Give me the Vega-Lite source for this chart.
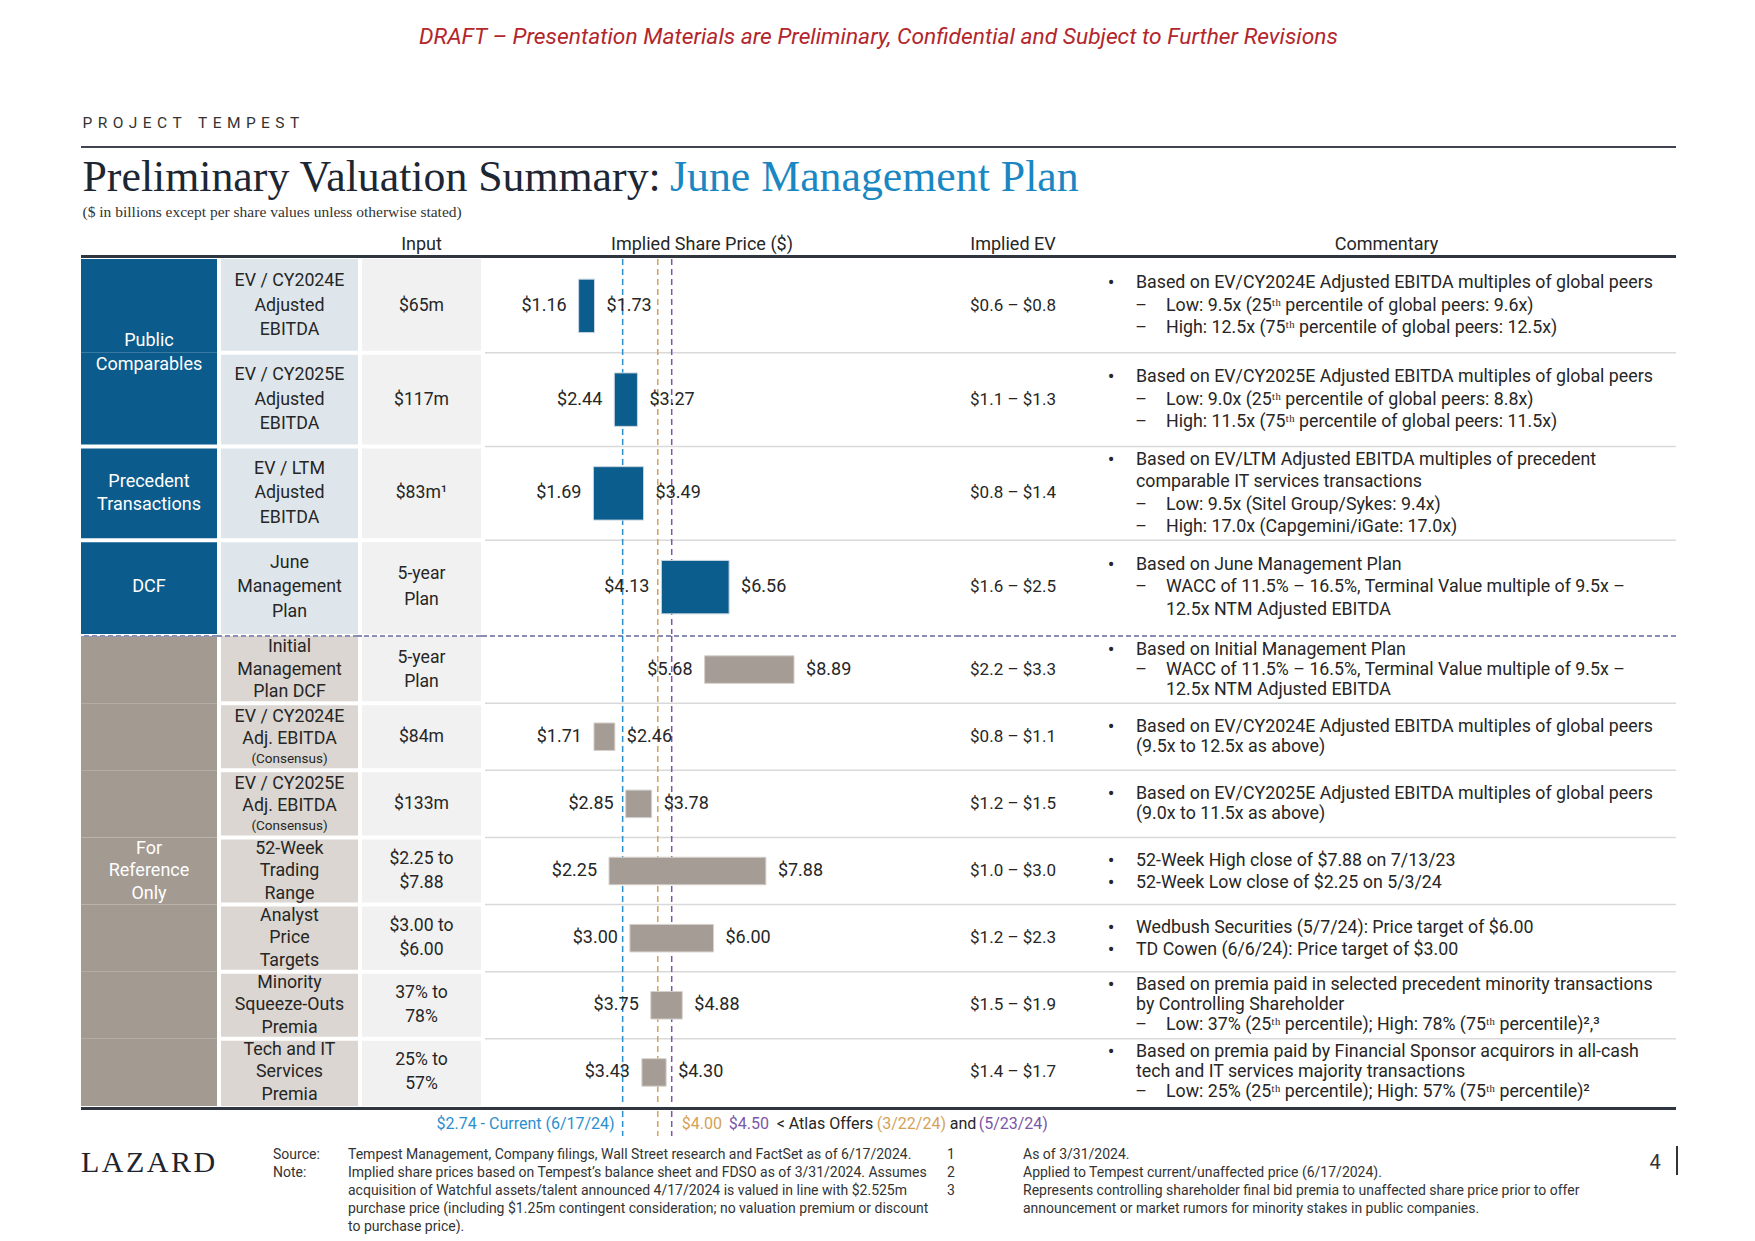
{
"$schema":"https://vega.github.io/schema/vega-lite/v6.json",
"background":"#ffffff",
"padding":{"left":79,"top":0,"right":0,"bottom":0},
"config":{"view":{"stroke":null},"concat":{"spacing":0},"text":{"font":"Roboto","color":"#262626"}},
"datasets":{
"upper":[
{"id":"pc24","method":"EV / CY2024E\nAdjusted\nEBITDA","input":"$65m","low":1.16,"high":1.73,"ev":"$0.6 \u2013 $0.8","cb":"\u2022","ct":"Based on EV/CY2024E Adjusted EBITDA multiples of global peers","cd":"\u2013\n\u2013","cs":"Low: 9.5x (25\u1d57\u02b0 percentile of global peers: 9.6x)\nHigh: 12.5x (75\u1d57\u02b0 percentile of global peers: 12.5x)"},
{"id":"pc25","method":"EV / CY2025E\nAdjusted\nEBITDA","input":"$117m","low":2.44,"high":3.27,"ev":"$1.1 \u2013 $1.3","cb":"\u2022","ct":"Based on EV/CY2025E Adjusted EBITDA multiples of global peers","cd":"\u2013\n\u2013","cs":"Low: 9.0x (25\u1d57\u02b0 percentile of global peers: 8.8x)\nHigh: 11.5x (75\u1d57\u02b0 percentile of global peers: 11.5x)"},
{"id":"pt","method":"EV / LTM\nAdjusted\nEBITDA","input":"$83m\u00b9","low":1.69,"high":3.49,"ev":"$0.8 \u2013 $1.4","cb":"\u2022","ct":"Based on EV/LTM Adjusted EBITDA multiples of precedent\ncomparable IT services transactions","cd":"\u2013\n\u2013","cs":"Low: 9.5x (Sitel Group/Sykes: 9.4x)\nHigh: 17.0x (Capgemini/iGate: 17.0x)"},
{"id":"dcf","method":"June\nManagement\nPlan","input":"5-year\nPlan","low":4.13,"high":6.56,"ev":"$1.6 \u2013 $2.5","cb":"\u2022","ct":"Based on June Management Plan","cd":"\u2013","cs":"WACC of 11.5% \u2013 16.5%, Terminal Value multiple of 9.5x \u2013\n12.5x NTM Adjusted EBITDA"}
],
"lower":[
{"id":"imp","method":"Initial\nManagement\nPlan DCF","input":"5-year\nPlan","low":5.68,"high":8.89,"ev":"$2.2 \u2013 $3.3","cb":"\u2022","ct":"Based on Initial Management Plan","cd":"\u2013","cs":"WACC of 11.5% \u2013 16.5%, Terminal Value multiple of 9.5x \u2013\n12.5x NTM Adjusted EBITDA"},
{"id":"c24","method":"EV / CY2024E\nAdj. EBITDA","note":"(Consensus)","input":"$84m","low":1.71,"high":2.46,"ev":"$0.8 \u2013 $1.1","cb":"\u2022","ct":"Based on EV/CY2024E Adjusted EBITDA multiples of global peers\n(9.5x to 12.5x as above)"},
{"id":"c25","method":"EV / CY2025E\nAdj. EBITDA","note":"(Consensus)","input":"$133m","low":2.85,"high":3.78,"ev":"$1.2 \u2013 $1.5","cb":"\u2022","ct":"Based on EV/CY2025E Adjusted EBITDA multiples of global peers\n(9.0x to 11.5x as above)"},
{"id":"wk52","method":"52-Week\nTrading\nRange","input":"$2.25 to\n$7.88","low":2.25,"high":7.88,"ev":"$1.0 \u2013 $3.0","cb":"\u2022","cb2":"\u2022","ct":"52-Week High close of $7.88 on 7/13/23","ct2":"52-Week Low close of $2.25 on 5/3/24"},
{"id":"analyst","method":"Analyst\nPrice\nTargets","input":"$3.00 to\n$6.00","low":3.0,"high":6.0,"ev":"$1.2 \u2013 $2.3","cb":"\u2022","cb2":"\u2022","ct":"Wedbush Securities (5/7/24): Price target of $6.00","ct2":"TD Cowen (6/6/24): Price target of $3.00"},
{"id":"minority","method":"Minority\nSqueeze-Outs\nPremia","input":"37% to\n78%","low":3.75,"high":4.88,"ev":"$1.5 \u2013 $1.9","cb":"\u2022","ct":"Based on premia paid in selected precedent minority transactions\nby Controlling Shareholder","cd":"\u2013","cs":"Low: 37% (25\u1d57\u02b0 percentile); High: 78% (75\u1d57\u02b0 percentile)\u00b2,\u00b3"},
{"id":"tech","method":"Tech and IT\nServices\nPremia","input":"25% to\n57%","low":3.43,"high":4.3,"ev":"$1.4 \u2013 $1.7","cb":"\u2022","ct":"Based on premia paid by Financial Sponsor acquirors in all-cash\ntech and IT services majority transactions","cd":"\u2013","cs":"Low: 25% (25\u1d57\u02b0 percentile); High: 57% (75\u1d57\u02b0 percentile)\u00b2"}
],
"groupsU":[{"anchor":"pc24","label":"Public\nComparables","span":2},{"anchor":"pt","label":"Precedent\nTransactions","span":1},{"anchor":"dcf","label":"DCF","span":1}],
"groupsL":[{"anchor":"wk52","label":"For\nReference\nOnly","span":7}],
"refs":[{"who":"current","price":2.74,"label":"$2.74 - Current (6/17/24)"},{"who":"offer1","price":4.0,"label":"$4.00","date":"(3/22/24)"},{"who":"offer2","price":4.5,"label":"$4.50","date":"(5/23/24)"}]
},
"vconcat":[
{"width":1595,"height":73,"data":{"values":[{"t":"DRAFT \u2013 Presentation Materials are Preliminary, Confidential and Subject to Further Revisions"}]},"mark":{"type":"text","fontStyle":"italic","fontSize":22.8,"color":"#b3262c","baseline":"middle","align":"center"},"encoding":{"text":{"field":"t","type":"nominal"}}},
{"width":1595,"height":27,"data":{"values":[]},"mark":"rect"},
{"width":3,"height":46,"data":{"values":[{"t":"P\u00a0\u200aR\u00a0\u200aO\u00a0\u200aJ\u00a0\u200aE\u00a0\u200aC\u00a0\u200aT\u00a0\u200a\u00a0\u200a\u00a0\u200aT\u00a0\u200aE\u00a0\u200aM\u00a0\u200aP\u00a0\u200aE\u00a0\u200aS\u00a0\u200aT"}]},"mark":{"type":"text","align":"left","baseline":"middle","fontSize":15.5,"color":"#333333"},"encoding":{"text":{"field":"t","type":"nominal"}}},
{"width":1595,"height":2,"data":{"values":[{}]},"mark":{"type":"rect","color":"#3f4450"}},
{"hconcat":[
 {"width":3,"height":55,"data":{"values":[{"t":"Preliminary Valuation Summary:"}]},"mark":{"type":"text","font":"Liberation Serif","fontSize":43.8,"align":"left","baseline":"middle","dy":2,"color":"#1d2633"},"encoding":{"text":{"field":"t","type":"nominal"}}},
 {"width":1172,"height":55,"data":{"values":[{"t":"June Management Plan"}]},"mark":{"type":"text","font":"Liberation Serif","fontSize":43.8,"align":"left","baseline":"middle","dy":2,"color":"#1a87c2"},"encoding":{"text":{"field":"t","type":"nominal"}}}
],"spacing":0,"bounds":"flush"},
{"width":3,"height":17,"data":{"values":[{"t":"($ in billions except per share values unless otherwise stated)"}]},"mark":{"type":"text","font":"Liberation Serif","fontSize":15.5,"align":"left","baseline":"middle","color":"#333333"},"encoding":{"text":{"field":"t","type":"nominal"}}},
{"hconcat":[
 {"width":281,"height":35,"data":{"values":[]},"mark":"rect"},
 {"width":119,"height":35,"data":{"values":[{"t":"Input"}]},"mark":{"type":"text","fontSize":18,"baseline":"middle","dy":7},"encoding":{"text":{"field":"t","type":"nominal"}}},
 {"width":4,"height":35,"data":{"values":[]},"mark":"rect"},
 {"width":474,"height":35,"data":{"values":[{"t":"Implied Share Price ($)"}]},"mark":{"type":"text","fontSize":18,"baseline":"middle","dy":7,"dx":-20},"encoding":{"text":{"field":"t","type":"nominal"}}},
 {"width":108,"height":35,"data":{"values":[{"t":"Implied EV"}]},"mark":{"type":"text","fontSize":18,"baseline":"middle","dy":7},"encoding":{"text":{"field":"t","type":"nominal"}}},
 {"width":609,"height":35,"data":{"values":[{"t":"Commentary"}]},"mark":{"type":"text","fontSize":18,"baseline":"middle","dy":7,"dx":15},"encoding":{"text":{"field":"t","type":"nominal"}}}
],"spacing":0,"bounds":"flush"},
{"width":1595,"height":3,"data":{"values":[{}]},"mark":{"type":"rect","color":"#2f3640"}},
{"hconcat":[
 {"width":136,"height":375,"data":{"name":"upper"},"layer":[
  {"mark":{"type":"rect","color":"#0b5b8c"},"encoding":{"y":{"field":"id","type":"nominal","axis":null,"scale":{"type":"band","domain":["pc24","pc25","pt","dcf"],"paddingInner":0,"paddingOuter":0}}}},
  {"transform":[{"filter":"datum.id=='pt'||datum.id=='dcf'"}],"mark":{"type":"rule","color":"#ffffff","strokeWidth":4},"encoding":{"y":{"field":"id","type":"nominal","axis":null,"bandPosition":0,"scale":{"type":"band","domain":["pc24","pc25","pt","dcf"],"paddingInner":0,"paddingOuter":0}}}},
  {"data":{"name":"groupsU"},"transform":[{"filter":"datum.span==2"}],"mark":{"type":"text","color":"#ffffff","fontSize":18,"lineBreak":"\n","lineHeight":23.5,"baseline":"middle","align":"center","dy":-11.75},"encoding":{"y":{"field":"anchor","type":"nominal","axis":null,"bandPosition":1,"scale":{"type":"band","domain":["pc24","pc25","pt","dcf"],"paddingInner":0,"paddingOuter":0}},"text":{"field":"label","type":"nominal"}}},
  {"data":{"name":"groupsU"},"transform":[{"filter":"datum.span!=2 && split(datum.label,'\\n').length==2"}],"mark":{"type":"text","color":"#ffffff","fontSize":18,"lineBreak":"\n","lineHeight":23.5,"baseline":"middle","align":"center","dy":-11.75},"encoding":{"y":{"field":"anchor","type":"nominal","axis":null,"scale":{"type":"band","domain":["pc24","pc25","pt","dcf"],"paddingInner":0,"paddingOuter":0}},"text":{"field":"label","type":"nominal"}}},
  {"data":{"name":"groupsU"},"transform":[{"filter":"datum.span!=2 && split(datum.label,'\\n').length==1"}],"mark":{"type":"text","color":"#ffffff","fontSize":18,"baseline":"middle","align":"center"},"encoding":{"y":{"field":"anchor","type":"nominal","axis":null,"scale":{"type":"band","domain":["pc24","pc25","pt","dcf"],"paddingInner":0,"paddingOuter":0}},"text":{"field":"label","type":"nominal"}}}
 ]},
 {"width":4,"height":375,"data":{"values":[]},"mark":"rect"},
 {"width":137,"height":375,"data":{"name":"upper"},"layer":[
  {"mark":{"type":"rect","color":"#dfe6eb"},"encoding":{"y":{"field":"id","type":"nominal","axis":null,"scale":{"type":"band","domain":["pc24","pc25","pt","dcf"],"paddingInner":0,"paddingOuter":0}}}},
  {"transform":[{"filter":"datum.id!='pc24'"}],"mark":{"type":"rule","color":"#ffffff","strokeWidth":4},"encoding":{"y":{"field":"id","type":"nominal","axis":null,"bandPosition":0,"scale":{"type":"band","domain":["pc24","pc25","pt","dcf"],"paddingInner":0,"paddingOuter":0}}}},
  {"mark":{"type":"text","fontSize":17.8,"lineBreak":"\n","lineHeight":24.5,"baseline":"middle","align":"center","dy":-24.5},"encoding":{"y":{"field":"id","type":"nominal","axis":null,"scale":{"type":"band","domain":["pc24","pc25","pt","dcf"],"paddingInner":0,"paddingOuter":0}},"text":{"field":"method","type":"nominal"}}}
 ]},
 {"width":4,"height":375,"data":{"values":[]},"mark":"rect"},
 {"width":119,"height":375,"data":{"name":"upper"},"layer":[
  {"mark":{"type":"rect","color":"#f1f1f1"},"encoding":{"y":{"field":"id","type":"nominal","axis":null,"scale":{"type":"band","domain":["pc24","pc25","pt","dcf"],"paddingInner":0,"paddingOuter":0}}}},
  {"transform":[{"filter":"datum.id!='pc24'"}],"mark":{"type":"rule","color":"#ffffff","strokeWidth":4},"encoding":{"y":{"field":"id","type":"nominal","axis":null,"bandPosition":0,"scale":{"type":"band","domain":["pc24","pc25","pt","dcf"],"paddingInner":0,"paddingOuter":0}}}},
  {"transform":[{"filter":"split(datum.input,'\\n').length==1"}],"mark":{"type":"text","fontSize":17.6,"baseline":"middle","align":"center"},"encoding":{"y":{"field":"id","type":"nominal","axis":null,"scale":{"type":"band","domain":["pc24","pc25","pt","dcf"],"paddingInner":0,"paddingOuter":0}},"text":{"field":"input","type":"nominal"}}},
  {"transform":[{"filter":"split(datum.input,'\\n').length==2"}],"mark":{"type":"text","fontSize":17.6,"lineBreak":"\n","lineHeight":26,"baseline":"middle","align":"center","dy":-13},"encoding":{"y":{"field":"id","type":"nominal","axis":null,"scale":{"type":"band","domain":["pc24","pc25","pt","dcf"],"paddingInner":0,"paddingOuter":0}},"text":{"field":"input","type":"nominal"}}}
 ]},
 {"width":4,"height":375,"data":{"values":[]},"mark":"rect"},
 {"width":474,"height":375,"layer":[
  {"data":{"name":"upper"},"transform":[{"filter":"datum.id!='pc24'"}],"mark":{"type":"rule","color":"#d9d9d9","strokeWidth":1.5},"encoding":{"y":{"field":"id","type":"nominal","axis":null,"bandPosition":0,"scale":{"type":"band","domain":["pc24","pc25","pt","dcf"],"paddingInner":0,"paddingOuter":0}}}},
  {"data":{"name":"refs"},"mark":{"type":"rule","strokeWidth":1.5,"strokeDash":[6,4]},"encoding":{"x":{"field":"price","type":"quantitative","axis":null,"scale":{"domain":[-2.2,14.81],"nice":false,"zero":false}},"color":{"field":"who","type":"nominal","legend":null,"scale":{"domain":["current","offer1","offer2"],"range":["#2b8fce","#d4a257","#7c56a8"]}}}},
  {"data":{"name":"upper"},"mark":{"type":"bar","height":{"band":0.57},"fill":"#0a5d8c","stroke":"#c8d5e0","strokeWidth":1},"encoding":{"y":{"field":"id","type":"nominal","axis":null,"scale":{"type":"band","domain":["pc24","pc25","pt","dcf"],"paddingInner":0,"paddingOuter":0}},"x":{"field":"low","type":"quantitative","axis":null,"scale":{"domain":[-2.2,14.81],"nice":false,"zero":false}},"x2":{"field":"high"}}},
  {"data":{"name":"upper"},"mark":{"type":"text","align":"right","dx":-12,"fontSize":18,"baseline":"middle"},"encoding":{"y":{"field":"id","type":"nominal","axis":null,"scale":{"type":"band","domain":["pc24","pc25","pt","dcf"],"paddingInner":0,"paddingOuter":0}},"x":{"field":"low","type":"quantitative","axis":null,"scale":{"domain":[-2.2,14.81],"nice":false,"zero":false}},"text":{"field":"low","type":"quantitative","format":"$.2f"}}},
  {"data":{"name":"upper"},"mark":{"type":"text","align":"left","dx":12,"fontSize":18,"baseline":"middle"},"encoding":{"y":{"field":"id","type":"nominal","axis":null,"scale":{"type":"band","domain":["pc24","pc25","pt","dcf"],"paddingInner":0,"paddingOuter":0}},"x":{"field":"high","type":"quantitative","axis":null,"scale":{"domain":[-2.2,14.81],"nice":false,"zero":false}},"text":{"field":"high","type":"quantitative","format":"$.2f"}}}
 ]},
 {"width":108,"height":375,"data":{"name":"upper"},"layer":[
  {"transform":[{"filter":"datum.id!='pc24'"}],"mark":{"type":"rule","color":"#d9d9d9","strokeWidth":1.5},"encoding":{"y":{"field":"id","type":"nominal","axis":null,"bandPosition":0,"scale":{"type":"band","domain":["pc24","pc25","pt","dcf"],"paddingInner":0,"paddingOuter":0}}}},
  {"mark":{"type":"text","fontSize":17,"baseline":"middle","align":"center"},"encoding":{"y":{"field":"id","type":"nominal","axis":null,"scale":{"type":"band","domain":["pc24","pc25","pt","dcf"],"paddingInner":0,"paddingOuter":0}},"text":{"field":"ev","type":"nominal"}}}
 ]},
 {"width":88,"height":375,"data":{"name":"upper"},"layer":[
  {"transform":[{"filter":"datum.id!='pc24'"}],"mark":{"type":"rule","color":"#d9d9d9","strokeWidth":1.5},"encoding":{"y":{"field":"id","type":"nominal","axis":null,"bandPosition":0,"scale":{"type":"band","domain":["pc24","pc25","pt","dcf"],"paddingInner":0,"paddingOuter":0}}}},
  {"transform":[{"filter":"split(datum.ct,'\\n').length + (datum.cs ? split(datum.cs,'\\n').length : 0) == 3"}],"mark":{"type":"text","fontSize":20,"baseline":"middle","align":"center","dy":-22.5},"encoding":{"y":{"field":"id","type":"nominal","axis":null,"scale":{"type":"band","domain":["pc24","pc25","pt","dcf"],"paddingInner":0,"paddingOuter":0}},"text":{"field":"cb","type":"nominal"}}},
  {"transform":[{"filter":"split(datum.ct,'\\n').length + (datum.cs ? split(datum.cs,'\\n').length : 0) == 3"}],"mark":{"type":"text","fontSize":17.8,"baseline":"middle","align":"left","dx":25,"dy":-22.5,"lineBreak":"\n","lineHeight":22.5},"encoding":{"y":{"field":"id","type":"nominal","axis":null,"scale":{"type":"band","domain":["pc24","pc25","pt","dcf"],"paddingInner":0,"paddingOuter":0}},"text":{"field":"ct","type":"nominal"}}},
  {"transform":[{"filter":"split(datum.ct,'\\n').length + (datum.cs ? split(datum.cs,'\\n').length : 0) == 4"}],"mark":{"type":"text","fontSize":20,"baseline":"middle","align":"center","dy":-33.75},"encoding":{"y":{"field":"id","type":"nominal","axis":null,"scale":{"type":"band","domain":["pc24","pc25","pt","dcf"],"paddingInner":0,"paddingOuter":0}},"text":{"field":"cb","type":"nominal"}}},
  {"transform":[{"filter":"split(datum.ct,'\\n').length + (datum.cs ? split(datum.cs,'\\n').length : 0) == 4"}],"mark":{"type":"text","fontSize":17.8,"baseline":"middle","align":"left","dx":25,"dy":-33.75,"lineBreak":"\n","lineHeight":22.5},"encoding":{"y":{"field":"id","type":"nominal","axis":null,"scale":{"type":"band","domain":["pc24","pc25","pt","dcf"],"paddingInner":0,"paddingOuter":0}},"text":{"field":"ct","type":"nominal"}}},
  {"transform":[{"filter":"datum.cs && split(datum.ct,'\\n').length==1 && split(datum.cs,'\\n').length==2"}],"mark":{"type":"text","fontSize":17.8,"baseline":"middle","align":"center","dx":30,"dy":0,"lineBreak":"\n","lineHeight":22.5},"encoding":{"y":{"field":"id","type":"nominal","axis":null,"scale":{"type":"band","domain":["pc24","pc25","pt","dcf"],"paddingInner":0,"paddingOuter":0}},"text":{"field":"cd","type":"nominal"}}},
  {"transform":[{"filter":"datum.cs && split(datum.ct,'\\n').length==1 && split(datum.cs,'\\n').length==2"}],"mark":{"type":"text","fontSize":17.8,"baseline":"middle","align":"left","dx":55,"dy":0,"lineBreak":"\n","lineHeight":22.5},"encoding":{"y":{"field":"id","type":"nominal","axis":null,"scale":{"type":"band","domain":["pc24","pc25","pt","dcf"],"paddingInner":0,"paddingOuter":0}},"text":{"field":"cs","type":"nominal"}}},
  {"transform":[{"filter":"datum.cs && split(datum.ct,'\\n').length==2 && split(datum.cs,'\\n').length==2"}],"mark":{"type":"text","fontSize":17.8,"baseline":"middle","align":"center","dx":30,"dy":11.25,"lineBreak":"\n","lineHeight":22.5},"encoding":{"y":{"field":"id","type":"nominal","axis":null,"scale":{"type":"band","domain":["pc24","pc25","pt","dcf"],"paddingInner":0,"paddingOuter":0}},"text":{"field":"cd","type":"nominal"}}},
  {"transform":[{"filter":"datum.cs && split(datum.ct,'\\n').length==2 && split(datum.cs,'\\n').length==2"}],"mark":{"type":"text","fontSize":17.8,"baseline":"middle","align":"left","dx":55,"dy":11.25,"lineBreak":"\n","lineHeight":22.5},"encoding":{"y":{"field":"id","type":"nominal","axis":null,"scale":{"type":"band","domain":["pc24","pc25","pt","dcf"],"paddingInner":0,"paddingOuter":0}},"text":{"field":"cs","type":"nominal"}}}
 ]},
 {"width":521,"height":375,"data":{"name":"upper"},"transform":[{"filter":"datum.id!='pc24'"}],"mark":{"type":"rule","color":"#d9d9d9","strokeWidth":1.5},"encoding":{"y":{"field":"id","type":"nominal","axis":null,"bandPosition":0,"scale":{"type":"band","domain":["pc24","pc25","pt","dcf"],"paddingInner":0,"paddingOuter":0}}}}
],"spacing":0,"bounds":"flush"},
{"hconcat":[
 {"width":136,"height":470,"data":{"name":"lower"},"layer":[
  {"mark":{"type":"rect","color":"#a39a91"},"encoding":{"y":{"field":"id","type":"nominal","axis":null,"scale":{"type":"band","domain":["imp","c24","c25","wk52","analyst","minority","tech"],"paddingInner":0,"paddingOuter":0}}}},
  {"transform":[{"filter":"datum.id=='imp'"}],"mark":{"type":"rule","color":"#8a8db5","strokeWidth":2,"strokeDash":[5,3]},"encoding":{"y":{"field":"id","type":"nominal","axis":null,"bandPosition":0,"scale":{"type":"band","domain":["imp","c24","c25","wk52","analyst","minority","tech"],"paddingInner":0,"paddingOuter":0}}}},
  {"data":{"name":"groupsL"},"mark":{"type":"text","color":"#ffffff","fontSize":18,"lineBreak":"\n","lineHeight":22.5,"baseline":"middle","align":"center","dy":-22.5},"encoding":{"y":{"field":"anchor","type":"nominal","axis":null,"scale":{"type":"band","domain":["imp","c24","c25","wk52","analyst","minority","tech"],"paddingInner":0,"paddingOuter":0}},"text":{"field":"label","type":"nominal"}}}
 ]},
 {"width":4,"height":470,"data":{"name":"lower"},"transform":[{"filter":"datum.id=='imp'"}],"mark":{"type":"rule","color":"#8a8db5","strokeWidth":2,"strokeDash":[5,3]},"encoding":{"y":{"field":"id","type":"nominal","axis":null,"bandPosition":0,"scale":{"type":"band","domain":["imp","c24","c25","wk52","analyst","minority","tech"],"paddingInner":0,"paddingOuter":0}}}},
 {"width":137,"height":470,"data":{"name":"lower"},"layer":[
  {"mark":{"type":"rect","color":"#dbd6d1"},"encoding":{"y":{"field":"id","type":"nominal","axis":null,"scale":{"type":"band","domain":["imp","c24","c25","wk52","analyst","minority","tech"],"paddingInner":0,"paddingOuter":0}}}},
  {"transform":[{"filter":"datum.id!='imp'"}],"mark":{"type":"rule","color":"#ffffff","strokeWidth":4},"encoding":{"y":{"field":"id","type":"nominal","axis":null,"bandPosition":0,"scale":{"type":"band","domain":["imp","c24","c25","wk52","analyst","minority","tech"],"paddingInner":0,"paddingOuter":0}}}},
  {"transform":[{"filter":"datum.id=='imp'"}],"mark":{"type":"rule","color":"#8a8db5","strokeWidth":2,"strokeDash":[5,3]},"encoding":{"y":{"field":"id","type":"nominal","axis":null,"bandPosition":0,"scale":{"type":"band","domain":["imp","c24","c25","wk52","analyst","minority","tech"],"paddingInner":0,"paddingOuter":0}}}},
  {"transform":[{"filter":"!datum.note"}],"mark":{"type":"text","fontSize":17.8,"lineBreak":"\n","lineHeight":22.5,"baseline":"middle","align":"center","dy":-22.5},"encoding":{"y":{"field":"id","type":"nominal","axis":null,"scale":{"type":"band","domain":["imp","c24","c25","wk52","analyst","minority","tech"],"paddingInner":0,"paddingOuter":0}},"text":{"field":"method","type":"nominal"}}},
  {"transform":[{"filter":"datum.note"}],"mark":{"type":"text","fontSize":17.8,"lineBreak":"\n","lineHeight":21.5,"baseline":"middle","align":"center","dy":-19.5},"encoding":{"y":{"field":"id","type":"nominal","axis":null,"scale":{"type":"band","domain":["imp","c24","c25","wk52","analyst","minority","tech"],"paddingInner":0,"paddingOuter":0}},"text":{"field":"method","type":"nominal"}}},
  {"transform":[{"filter":"datum.note"}],"mark":{"type":"text","fontSize":13.5,"baseline":"middle","align":"center","dy":22.5},"encoding":{"y":{"field":"id","type":"nominal","axis":null,"scale":{"type":"band","domain":["imp","c24","c25","wk52","analyst","minority","tech"],"paddingInner":0,"paddingOuter":0}},"text":{"field":"note","type":"nominal"}}}
 ]},
 {"width":4,"height":470,"data":{"name":"lower"},"transform":[{"filter":"datum.id=='imp'"}],"mark":{"type":"rule","color":"#8a8db5","strokeWidth":2,"strokeDash":[5,3]},"encoding":{"y":{"field":"id","type":"nominal","axis":null,"bandPosition":0,"scale":{"type":"band","domain":["imp","c24","c25","wk52","analyst","minority","tech"],"paddingInner":0,"paddingOuter":0}}}},
 {"width":119,"height":470,"data":{"name":"lower"},"layer":[
  {"mark":{"type":"rect","color":"#f1f1f1"},"encoding":{"y":{"field":"id","type":"nominal","axis":null,"scale":{"type":"band","domain":["imp","c24","c25","wk52","analyst","minority","tech"],"paddingInner":0,"paddingOuter":0}}}},
  {"transform":[{"filter":"datum.id!='imp'"}],"mark":{"type":"rule","color":"#ffffff","strokeWidth":4},"encoding":{"y":{"field":"id","type":"nominal","axis":null,"bandPosition":0,"scale":{"type":"band","domain":["imp","c24","c25","wk52","analyst","minority","tech"],"paddingInner":0,"paddingOuter":0}}}},
  {"transform":[{"filter":"datum.id=='imp'"}],"mark":{"type":"rule","color":"#8a8db5","strokeWidth":2,"strokeDash":[5,3]},"encoding":{"y":{"field":"id","type":"nominal","axis":null,"bandPosition":0,"scale":{"type":"band","domain":["imp","c24","c25","wk52","analyst","minority","tech"],"paddingInner":0,"paddingOuter":0}}}},
  {"transform":[{"filter":"split(datum.input,'\\n').length==1"}],"mark":{"type":"text","fontSize":17.6,"baseline":"middle","align":"center"},"encoding":{"y":{"field":"id","type":"nominal","axis":null,"scale":{"type":"band","domain":["imp","c24","c25","wk52","analyst","minority","tech"],"paddingInner":0,"paddingOuter":0}},"text":{"field":"input","type":"nominal"}}},
  {"transform":[{"filter":"split(datum.input,'\\n').length==2"}],"mark":{"type":"text","fontSize":17.6,"lineBreak":"\n","lineHeight":24,"baseline":"middle","align":"center","dy":-12},"encoding":{"y":{"field":"id","type":"nominal","axis":null,"scale":{"type":"band","domain":["imp","c24","c25","wk52","analyst","minority","tech"],"paddingInner":0,"paddingOuter":0}},"text":{"field":"input","type":"nominal"}}}
 ]},
 {"width":4,"height":470,"data":{"name":"lower"},"transform":[{"filter":"datum.id=='imp'"}],"mark":{"type":"rule","color":"#8a8db5","strokeWidth":2,"strokeDash":[5,3]},"encoding":{"y":{"field":"id","type":"nominal","axis":null,"bandPosition":0,"scale":{"type":"band","domain":["imp","c24","c25","wk52","analyst","minority","tech"],"paddingInner":0,"paddingOuter":0}}}},
 {"width":474,"height":470,"layer":[
  {"data":{"name":"lower"},"transform":[{"filter":"datum.id!='imp'"}],"mark":{"type":"rule","color":"#d9d9d9","strokeWidth":1.5},"encoding":{"y":{"field":"id","type":"nominal","axis":null,"bandPosition":0,"scale":{"type":"band","domain":["imp","c24","c25","wk52","analyst","minority","tech"],"paddingInner":0,"paddingOuter":0}}}},
  {"data":{"name":"lower"},"transform":[{"filter":"datum.id=='imp'"}],"mark":{"type":"rule","color":"#8a8db5","strokeWidth":2,"strokeDash":[5,3]},"encoding":{"y":{"field":"id","type":"nominal","axis":null,"bandPosition":0,"scale":{"type":"band","domain":["imp","c24","c25","wk52","analyst","minority","tech"],"paddingInner":0,"paddingOuter":0}}}},
  {"data":{"name":"refs"},"mark":{"type":"rule","strokeWidth":1.5,"strokeDash":[6,4]},"encoding":{"x":{"field":"price","type":"quantitative","axis":null,"scale":{"domain":[-2.2,14.81],"nice":false,"zero":false}},"color":{"field":"who","type":"nominal","legend":null,"scale":{"domain":["current","offer1","offer2"],"range":["#2b8fce","#d4a257","#7c56a8"]}}}},
  {"data":{"name":"lower"},"mark":{"type":"bar","height":{"band":0.41},"fill":"#a59d95","stroke":"#d6d1cc","strokeWidth":1},"encoding":{"y":{"field":"id","type":"nominal","axis":null,"scale":{"type":"band","domain":["imp","c24","c25","wk52","analyst","minority","tech"],"paddingInner":0,"paddingOuter":0}},"x":{"field":"low","type":"quantitative","axis":null,"scale":{"domain":[-2.2,14.81],"nice":false,"zero":false}},"x2":{"field":"high"}}},
  {"data":{"name":"lower"},"mark":{"type":"text","align":"right","dx":-12,"fontSize":18,"baseline":"middle"},"encoding":{"y":{"field":"id","type":"nominal","axis":null,"scale":{"type":"band","domain":["imp","c24","c25","wk52","analyst","minority","tech"],"paddingInner":0,"paddingOuter":0}},"x":{"field":"low","type":"quantitative","axis":null,"scale":{"domain":[-2.2,14.81],"nice":false,"zero":false}},"text":{"field":"low","type":"quantitative","format":"$.2f"}}},
  {"data":{"name":"lower"},"mark":{"type":"text","align":"left","dx":12,"fontSize":18,"baseline":"middle"},"encoding":{"y":{"field":"id","type":"nominal","axis":null,"scale":{"type":"band","domain":["imp","c24","c25","wk52","analyst","minority","tech"],"paddingInner":0,"paddingOuter":0}},"x":{"field":"high","type":"quantitative","axis":null,"scale":{"domain":[-2.2,14.81],"nice":false,"zero":false}},"text":{"field":"high","type":"quantitative","format":"$.2f"}}}
 ]},
 {"width":108,"height":470,"data":{"name":"lower"},"layer":[
  {"transform":[{"filter":"datum.id!='imp'"}],"mark":{"type":"rule","color":"#d9d9d9","strokeWidth":1.5},"encoding":{"y":{"field":"id","type":"nominal","axis":null,"bandPosition":0,"scale":{"type":"band","domain":["imp","c24","c25","wk52","analyst","minority","tech"],"paddingInner":0,"paddingOuter":0}}}},
  {"transform":[{"filter":"datum.id=='imp'"}],"mark":{"type":"rule","color":"#8a8db5","strokeWidth":2,"strokeDash":[5,3]},"encoding":{"y":{"field":"id","type":"nominal","axis":null,"bandPosition":0,"scale":{"type":"band","domain":["imp","c24","c25","wk52","analyst","minority","tech"],"paddingInner":0,"paddingOuter":0}}}},
  {"mark":{"type":"text","fontSize":17,"baseline":"middle","align":"center"},"encoding":{"y":{"field":"id","type":"nominal","axis":null,"scale":{"type":"band","domain":["imp","c24","c25","wk52","analyst","minority","tech"],"paddingInner":0,"paddingOuter":0}},"text":{"field":"ev","type":"nominal"}}}
 ]},
 {"width":88,"height":470,"data":{"name":"lower"},"layer":[
  {"transform":[{"filter":"datum.id!='imp'"}],"mark":{"type":"rule","color":"#d9d9d9","strokeWidth":1.5},"encoding":{"y":{"field":"id","type":"nominal","axis":null,"bandPosition":0,"scale":{"type":"band","domain":["imp","c24","c25","wk52","analyst","minority","tech"],"paddingInner":0,"paddingOuter":0}}}},
  {"transform":[{"filter":"datum.id=='imp'"}],"mark":{"type":"rule","color":"#8a8db5","strokeWidth":2,"strokeDash":[5,3]},"encoding":{"y":{"field":"id","type":"nominal","axis":null,"bandPosition":0,"scale":{"type":"band","domain":["imp","c24","c25","wk52","analyst","minority","tech"],"paddingInner":0,"paddingOuter":0}}}},
  {"transform":[{"filter":"datum.ct2 || split(datum.ct,'\\n').length + (datum.cs ? split(datum.cs,'\\n').length : 0) == 2"}],"mark":{"type":"text","fontSize":20,"baseline":"middle","align":"center","dy":-10},"encoding":{"y":{"field":"id","type":"nominal","axis":null,"scale":{"type":"band","domain":["imp","c24","c25","wk52","analyst","minority","tech"],"paddingInner":0,"paddingOuter":0}},"text":{"field":"cb","type":"nominal"}}},
  {"transform":[{"filter":"datum.ct2 || split(datum.ct,'\\n').length + (datum.cs ? split(datum.cs,'\\n').length : 0) == 2"}],"mark":{"type":"text","fontSize":17.8,"baseline":"middle","align":"left","dx":25,"dy":-10,"lineBreak":"\n","lineHeight":20},"encoding":{"y":{"field":"id","type":"nominal","axis":null,"scale":{"type":"band","domain":["imp","c24","c25","wk52","analyst","minority","tech"],"paddingInner":0,"paddingOuter":0}},"text":{"field":"ct","type":"nominal"}}},
  {"transform":[{"filter":"datum.ct2"}],"mark":{"type":"text","fontSize":20,"baseline":"middle","align":"center","dy":12},"encoding":{"y":{"field":"id","type":"nominal","axis":null,"scale":{"type":"band","domain":["imp","c24","c25","wk52","analyst","minority","tech"],"paddingInner":0,"paddingOuter":0}},"text":{"field":"cb2","type":"nominal"}}},
  {"transform":[{"filter":"datum.ct2"}],"mark":{"type":"text","fontSize":17.8,"baseline":"middle","align":"left","dx":25,"dy":12},"encoding":{"y":{"field":"id","type":"nominal","axis":null,"scale":{"type":"band","domain":["imp","c24","c25","wk52","analyst","minority","tech"],"paddingInner":0,"paddingOuter":0}},"text":{"field":"ct2","type":"nominal"}}},
  {"transform":[{"filter":"!datum.ct2 && split(datum.ct,'\\n').length + (datum.cs ? split(datum.cs,'\\n').length : 0) == 3"}],"mark":{"type":"text","fontSize":20,"baseline":"middle","align":"center","dy":-20},"encoding":{"y":{"field":"id","type":"nominal","axis":null,"scale":{"type":"band","domain":["imp","c24","c25","wk52","analyst","minority","tech"],"paddingInner":0,"paddingOuter":0}},"text":{"field":"cb","type":"nominal"}}},
  {"transform":[{"filter":"!datum.ct2 && split(datum.ct,'\\n').length + (datum.cs ? split(datum.cs,'\\n').length : 0) == 3"}],"mark":{"type":"text","fontSize":17.8,"baseline":"middle","align":"left","dx":25,"dy":-20,"lineBreak":"\n","lineHeight":20},"encoding":{"y":{"field":"id","type":"nominal","axis":null,"scale":{"type":"band","domain":["imp","c24","c25","wk52","analyst","minority","tech"],"paddingInner":0,"paddingOuter":0}},"text":{"field":"ct","type":"nominal"}}},
  {"transform":[{"filter":"datum.cs && split(datum.ct,'\\n').length==1"}],"mark":{"type":"text","fontSize":17.8,"baseline":"middle","align":"center","dx":30,"dy":0,"lineBreak":"\n","lineHeight":20},"encoding":{"y":{"field":"id","type":"nominal","axis":null,"scale":{"type":"band","domain":["imp","c24","c25","wk52","analyst","minority","tech"],"paddingInner":0,"paddingOuter":0}},"text":{"field":"cd","type":"nominal"}}},
  {"transform":[{"filter":"datum.cs && split(datum.ct,'\\n').length==1"}],"mark":{"type":"text","fontSize":17.8,"baseline":"middle","align":"left","dx":55,"dy":0,"lineBreak":"\n","lineHeight":20},"encoding":{"y":{"field":"id","type":"nominal","axis":null,"scale":{"type":"band","domain":["imp","c24","c25","wk52","analyst","minority","tech"],"paddingInner":0,"paddingOuter":0}},"text":{"field":"cs","type":"nominal"}}},
  {"transform":[{"filter":"datum.cs && split(datum.ct,'\\n').length==2"}],"mark":{"type":"text","fontSize":17.8,"baseline":"middle","align":"center","dx":30,"dy":20,"lineBreak":"\n","lineHeight":20},"encoding":{"y":{"field":"id","type":"nominal","axis":null,"scale":{"type":"band","domain":["imp","c24","c25","wk52","analyst","minority","tech"],"paddingInner":0,"paddingOuter":0}},"text":{"field":"cd","type":"nominal"}}},
  {"transform":[{"filter":"datum.cs && split(datum.ct,'\\n').length==2"}],"mark":{"type":"text","fontSize":17.8,"baseline":"middle","align":"left","dx":55,"dy":20,"lineBreak":"\n","lineHeight":20},"encoding":{"y":{"field":"id","type":"nominal","axis":null,"scale":{"type":"band","domain":["imp","c24","c25","wk52","analyst","minority","tech"],"paddingInner":0,"paddingOuter":0}},"text":{"field":"cs","type":"nominal"}}}
 ]},
 {"width":521,"height":470,"data":{"name":"lower"},"layer":[
  {"transform":[{"filter":"datum.id!='imp'"}],"mark":{"type":"rule","color":"#d9d9d9","strokeWidth":1.5},"encoding":{"y":{"field":"id","type":"nominal","axis":null,"bandPosition":0,"scale":{"type":"band","domain":["imp","c24","c25","wk52","analyst","minority","tech"],"paddingInner":0,"paddingOuter":0}}}},
  {"transform":[{"filter":"datum.id=='imp'"}],"mark":{"type":"rule","color":"#8a8db5","strokeWidth":2,"strokeDash":[5,3]},"encoding":{"y":{"field":"id","type":"nominal","axis":null,"bandPosition":0,"scale":{"type":"band","domain":["imp","c24","c25","wk52","analyst","minority","tech"],"paddingInner":0,"paddingOuter":0}}}}
 ]}
],"spacing":0,"bounds":"flush"},
{"width":1595,"height":3,"data":{"values":[{}]},"mark":{"type":"rect","color":"#2f3640"}},
{"hconcat":[
 {"width":404,"height":25,"data":{"values":[]},"mark":"rect"},
 {"width":474,"height":25,"data":{"name":"refs"},"layer":[
  {"mark":{"type":"rule","strokeWidth":1.5,"strokeDash":[6,4]},"encoding":{"x":{"field":"price","type":"quantitative","axis":null,"scale":{"domain":[-2.2,14.81],"nice":false,"zero":false}},"color":{"field":"who","type":"nominal","legend":null,"scale":{"domain":["current","offer1","offer2"],"range":["#2b8fce","#d4a257","#7c56a8"]}}}},
  {"transform":[{"filter":"datum.who=='current'"}],"mark":{"type":"text","align":"right","dx":-8,"fontSize":16,"baseline":"middle"},"encoding":{"x":{"field":"price","type":"quantitative","axis":null,"scale":{"domain":[-2.2,14.81],"nice":false,"zero":false}},"text":{"field":"label","type":"nominal"},"color":{"field":"who","type":"nominal","legend":null,"scale":{"domain":["current","offer1","offer2"],"range":["#2b8fce","#d4a257","#7c56a8"]}}}},
  {"transform":[{"filter":"datum.who=='offer1'"}],"mark":{"type":"text","align":"left","dx":24,"fontSize":16,"baseline":"middle"},"encoding":{"x":{"field":"price","type":"quantitative","axis":null,"scale":{"domain":[-2.2,14.81],"nice":false,"zero":false}},"text":{"field":"label","type":"nominal"},"color":{"field":"who","type":"nominal","legend":null,"scale":{"domain":["current","offer1","offer2"],"range":["#2b8fce","#d4a257","#7c56a8"]}}}},
  {"transform":[{"filter":"datum.who=='offer2'"}],"mark":{"type":"text","align":"left","dx":57,"fontSize":16,"baseline":"middle"},"encoding":{"x":{"field":"price","type":"quantitative","axis":null,"scale":{"domain":[-2.2,14.81],"nice":false,"zero":false}},"text":{"field":"label","type":"nominal"},"color":{"field":"who","type":"nominal","legend":null,"scale":{"domain":["current","offer1","offer2"],"range":["#2b8fce","#d4a257","#7c56a8"]}}}},
  {"transform":[{"filter":"datum.who=='offer1'"}],"mark":{"type":"text","align":"left","dx":219,"fontSize":16,"baseline":"middle"},"encoding":{"x":{"field":"price","type":"quantitative","axis":null,"scale":{"domain":[-2.2,14.81],"nice":false,"zero":false}},"text":{"field":"date","type":"nominal"},"color":{"field":"who","type":"nominal","legend":null,"scale":{"domain":["current","offer1","offer2"],"range":["#2b8fce","#d4a257","#7c56a8"]}}}},
  {"transform":[{"filter":"datum.who=='offer2'"}],"mark":{"type":"text","align":"left","dx":307,"fontSize":16,"baseline":"middle"},"encoding":{"x":{"field":"price","type":"quantitative","axis":null,"scale":{"domain":[-2.2,14.81],"nice":false,"zero":false}},"text":{"field":"date","type":"nominal"},"color":{"field":"who","type":"nominal","legend":null,"scale":{"domain":["current","offer1","offer2"],"range":["#2b8fce","#d4a257","#7c56a8"]}}}},
  {"transform":[{"filter":"datum.who=='offer2'"}],"mark":{"type":"text","align":"left","dx":105,"fontSize":16,"baseline":"middle","text":"< Atlas Offers","color":"#262626"},"encoding":{"x":{"field":"price","type":"quantitative","axis":null,"scale":{"domain":[-2.2,14.81],"nice":false,"zero":false}}}},
  {"transform":[{"filter":"datum.who=='offer2'"}],"mark":{"type":"text","align":"left","dx":278,"fontSize":16,"baseline":"middle","text":"and","color":"#262626"},"encoding":{"x":{"field":"price","type":"quantitative","axis":null,"scale":{"domain":[-2.2,14.81],"nice":false,"zero":false}}}}
 ]}
],"spacing":0,"bounds":"flush"},
{"hconcat":[
 {"width":134,"height":22,"data":{"values":[{"t":"L\u200aA\u200aZ\u200aA\u200aR\u200aD"}]},"mark":{"type":"text","font":"Liberation Serif","fontSize":30,"baseline":"top","align":"center","color":"#1e2430"},"encoding":{"text":{"field":"t","type":"nominal"}}},
 {"width":116,"height":22,"data":{"values":[{"t":"Source:\nNote:"}]},"mark":{"type":"text","fontSize":14,"baseline":"top","align":"left","lineBreak":"\n","lineHeight":18,"color":"#333333"},"encoding":{"text":{"field":"t","type":"nominal"}}},
 {"width":34,"height":22,"data":{"values":[{"t":"Tempest Management, Company filings, Wall Street research and FactSet as of 6/17/2024.\nImplied share prices based on Tempest\u2019s balance sheet and FDSO as of 3/31/2024. Assumes\nacquisition of Watchful assets/talent announced 4/17/2024 is valued in line with $2.525m\npurchase price (including $1.25m contingent consideration; no valuation premium or discount\nto purchase price)."}]},"mark":{"type":"text","fontSize":14,"baseline":"top","align":"left","lineBreak":"\n","lineHeight":18,"color":"#333333"},"encoding":{"text":{"field":"t","type":"nominal"}}},
 {"width":537,"height":22,"data":{"values":[]},"mark":"rect"},
 {"width":98,"height":22,"data":{"values":[{"t":"1\n2\n3"}]},"mark":{"type":"text","fontSize":14,"baseline":"top","align":"center","lineBreak":"\n","lineHeight":18,"color":"#333333"},"encoding":{"text":{"field":"t","type":"nominal"}}},
 {"width":46,"height":22,"data":{"values":[{"t":"As of 3/31/2024.\nApplied to Tempest current/unaffected price (6/17/2024).\nRepresents controlling shareholder final bid premia to unaffected share price prior to offer\nannouncement or market rumors for minority stakes in public companies."}]},"mark":{"type":"text","fontSize":14,"baseline":"top","align":"left","lineBreak":"\n","lineHeight":18,"color":"#333333"},"encoding":{"text":{"field":"t","type":"nominal"}}},
 {"width":588,"height":22,"data":{"values":[]},"mark":"rect"},
 {"width":42,"height":22,"data":{"values":[{"t":"4"}]},"mark":{"type":"text","fontSize":20,"baseline":"top","align":"center","dy":5,"color":"#333333"},"encoding":{"text":{"field":"t","type":"nominal"}}},
 {"vconcat":[
  {"width":2,"height":9,"data":{"values":[]},"mark":"rect"},
  {"width":2,"height":29,"data":{"values":[{}]},"mark":{"type":"rect","color":"#333333"}}
 ],"spacing":0,"bounds":"flush"}
],"spacing":0,"bounds":"flush"}
],
"spacing":0
}
